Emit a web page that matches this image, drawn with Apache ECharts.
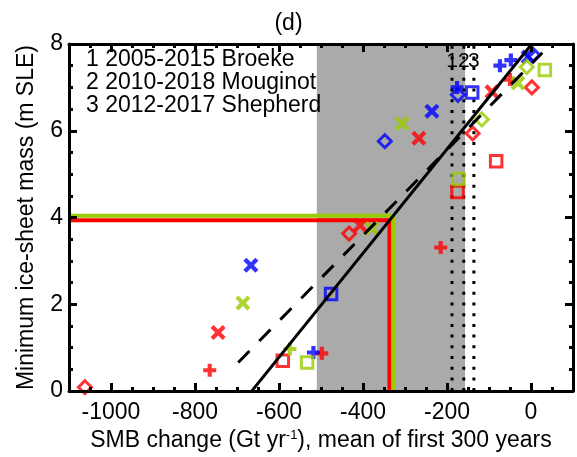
<!DOCTYPE html>
<html>
<head>
<meta charset="utf-8">
<script src="https://cdn.jsdelivr.net/npm/echarts@6/dist/echarts.min.js"></script>
<style>
html, body { margin: 0; padding: 0; background: #fff; }
#main { width: 577px; height: 457px; }
</style>
</head>
<body>
<div id="main"></div>
<script>
// tick values
var xMajorTicks = [-1000, -800, -600, -400, -200, 0];
var xMinorTicks = [-1050, -950, -900, -850, -750, -700, -650, -550, -500, -450, -350, -300, -250, -150, -100, -50, 50];
var yMajorTicks = [0, 2, 4, 6, 8];
var yMinorTicks = [0.5, 1, 1.5, 2.5, 3, 3.5, 4.5, 5, 5.5, 6.5, 7, 7.5];

// markers [SMB change, min mass]
var redDiamond = [[-1062, 0.09], [-433, 3.63], [-139, 5.94], [2, 7.0]];
var redPlus = [[-765, 0.48], [-498, 0.87], [-215, 3.31], [-50, 7.18]];
var redCross = [[-745, 1.35], [-407, 3.82], [-267, 5.83], [-93, 6.9]];
var redSquare = [[-591, 0.70], [-175, 4.59], [-83, 5.30]];

var blueDiamond = [[-348, 5.76], [-174, 6.83], [5, 7.75]];
var bluePlus = [[-518, 0.89], [-176, 7.0], [-74, 7.5], [-48, 7.63]];
var blueCross = [[-667, 2.90], [-236, 6.45], [-7, 7.7]];
var blueSquare = [[-476, 2.24], [-140, 6.88]];

var greenDiamond = [[-117, 6.26], [-10, 7.47]];
var greenPlus = [[-574, 0.97]];
var greenCross = [[-686, 2.03], [-379, 3.75], [-307, 6.17], [-31, 7.1]];
var greenSquare = [[-533, 0.66], [-173, 4.89], [33, 7.4]];

// fit lines and thresholds
var fitSolid = [[-665, 0], [2, 8]];
var fitDashed = [[-697, 0.66], [27, 7.8]];
var redThreshold = [[-1100, 3.94], [-337, 3.94], [-337, 0]];
var greenThreshold = [[-1100, 4.04], [-328, 4.04], [-328, 0]];

// observed SMB (1, 2, 3) and shaded range
var obsSmb = [-188, -160, -136];
var obsLabels = ['1', '2', '3'];
var grayBand = [-510, -157];
var legendLines = ['1 2005-2015 Broeke', '2 2010-2018 Mouginot', '3 2012-2017 Shepherd'];

var FONT = 'Liberation Sans';
var RED = '#ff0000', BLUE = '#0000ff', GREEN = '#99cc00';
var PLUS = 'path://M3.4,0L6.6,0L6.6,3.4L10,3.4L10,6.6L6.6,6.6L6.6,10L3.4,10L3.4,6.6L0,6.6L0,3.4L3.4,3.4Z';
var CROSS = 'path://M3,0L5,0L5,3L8,3L8,5L5,5L5,8L3,8L3,5L0,5L0,3L3,3Z';

function marker(data, color, shape) {
  var s = { type: 'scatter', data: data, z: 5, silent: true, animation: false };
  if (shape === 'diamond') {
    s.symbol = 'diamond'; s.symbolSize = [13, 13];
    s.itemStyle = { color: 'rgba(0,0,0,0)', borderColor: color, borderWidth: 3 };
  } else if (shape === 'square') {
    s.symbol = 'rect'; s.symbolSize = 11.5;
    s.itemStyle = { color: 'rgba(0,0,0,0)', borderColor: color, borderWidth: 3 };
  } else if (shape === 'plus') {
    s.symbol = PLUS; s.symbolSize = 13;
    s.itemStyle = { color: color };
  } else {
    s.symbol = CROSS; s.symbolSize = 17; s.symbolRotate = 45;
    s.itemStyle = { color: color };
  }
  return s;
}

function line(data, color, width, type, z) {
  return {
    type: 'line', data: data, showSymbol: false, symbol: 'none', z: z, silent: true,
    animation: false,
    lineStyle: { color: color, width: width, type: type, cap: 'butt' }
  };
}

var myChart = echarts.init(document.getElementById('main'));

function xAx(pos, ticks, len, labels, showLine) {
  return {
    type: 'value', position: pos, min: -1100, max: 100, z: 10,
    axisLine: { show: showLine, onZero: false, lineStyle: { color: '#000', width: 3 } },
    axisTick: { show: true, inside: true, length: len, customValues: ticks, lineStyle: { color: '#000', width: 3 } },
    axisLabel: labels ? {
      show: true, customValues: ticks, margin: 10, color: '#000', fontSize: 23, fontFamily: FONT,
      formatter: function (v) { return String(v); }
    } : { show: false },
    splitLine: { show: false }
  };
}
function yAx(pos, ticks, len, labels, showLine) {
  return {
    type: 'value', position: pos, min: 0, max: 8, z: 10,
    axisLine: { show: showLine, onZero: false, lineStyle: { color: '#000', width: 3 } },
    axisTick: { show: true, inside: true, length: len, customValues: ticks, lineStyle: { color: '#000', width: 3 } },
    axisLabel: labels ? { show: true, customValues: ticks, margin: 6, color: '#000', fontSize: 23, fontFamily: FONT } : { show: false },
    splitLine: { show: false }
  };
}

var xMain = xAx('bottom', xMajorTicks, 8, true, true);
xMain.name = '{t|SMB change (Gt yr}{s|-1}{t|), mean of first 300 years}';
xMain.nameLocation = 'middle';
xMain.nameGap = 36;
xMain.nameTextStyle = {
  color: '#000', fontSize: 23, fontFamily: FONT,
  rich: {
    t: { color: '#000', fontSize: 23, fontFamily: FONT },
    s: { color: '#000', fontSize: 13, fontFamily: FONT, verticalAlign: 'top' }
  }
};
var yMain = yAx('left', yMajorTicks, 8, true, true);
yMain.name = 'Minimum ice-sheet mass (m SLE)';
yMain.nameLocation = 'middle';
yMain.nameGap = 31;
yMain.nameTextStyle = { color: '#000', fontSize: 23, fontFamily: FONT };

var series = [
  {
    type: 'scatter', data: [], z: 1, silent: true,
    markArea: {
      silent: true,
      itemStyle: { color: '#aaaaaa' },
      data: [[{ xAxis: grayBand[0] }, { xAxis: grayBand[1] }]]
    }
  }
];
obsSmb.forEach(function (v) {
  series.push(line([[v, 0], [v, 8]], '#000', 3, [3, 7.7], 3));
});
series.push(line(redThreshold, RED, 4, 'solid', 4));
series.push(line(greenThreshold, GREEN, 4, 'solid', 4));
series.push(marker(redDiamond, RED, 'diamond'));
series.push(marker(redPlus, RED, 'plus'));
series.push(marker(redCross, RED, 'cross'));
series.push(marker(redSquare, RED, 'square'));
series.push(marker(blueDiamond, BLUE, 'diamond'));
series.push(marker(bluePlus, BLUE, 'plus'));
series.push(marker(blueCross, BLUE, 'cross'));
series.push(marker(blueSquare, BLUE, 'square'));
series.push(marker(greenDiamond, GREEN, 'diamond'));
series.push(marker(greenPlus, GREEN, 'plus'));
series.push(marker(greenCross, GREEN, 'cross'));
series.push(marker(greenSquare, GREEN, 'square'));
series.push(line(fitSolid, '#000', 3, 'solid', 6));
series.push(line(fitDashed, '#000', 3, [16, 14], 6));

var graphics = legendLines.map(function (t, i) {
  return {
    type: 'text', left: 86, top: 48 + i * 23, z: 20,
    style: { text: t, fill: '#000', font: '23px "' + FONT + '"' }
  };
});

var option = {
  backgroundColor: '#fff',
  animation: false,
  title: {
    text: '(d)', left: 'center', top: 7,
    textStyle: { color: '#000', fontSize: 23, fontWeight: 'normal', fontFamily: FONT }
  },
  grid: { left: 69, right: 4, top: 44, bottom: 63, containLabel: false },
  xAxis: [
    xMain,
    xAx('bottom', xMinorTicks, 4, false, false),
    xAx('top', xMajorTicks, 8, false, true),
    xAx('top', xMinorTicks, 4, false, false)
  ],
  yAxis: [
    yMain,
    yAx('left', yMinorTicks, 4, false, false),
    yAx('right', yMajorTicks, 8, false, true),
    yAx('right', yMinorTicks, 4, false, false)
  ],
  graphic: graphics,
  series: series
};
myChart.setOption(option);

// labels 1 2 3 over the observed SMB lines
var extra = obsSmb.map(function (v, i) {
  var p = myChart.convertToPixel({ xAxisIndex: 0, yAxisIndex: 0 }, [v, 8]);
  return {
    type: 'text', x: p[0], y: 61, z: 20,
    style: { text: obsLabels[i], fill: '#000', font: '21px "' + FONT + '"', align: 'center', verticalAlign: 'middle' }
  };
});
myChart.setOption({ graphic: graphics.concat(extra) });
</script>
</body>
</html>
